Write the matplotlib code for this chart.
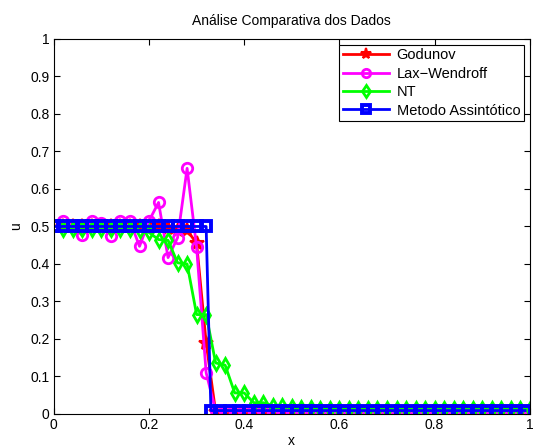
import numpy as np
import matplotlib.pyplot as plt

plt.rcParams['font.family'] = ['Liberation Sans', 'DejaVu Sans']

# grid used by the numerical schemes
x = [0.02 * k for k in range(1, 51)]

godunov = [0.50, 0.50, 0.50, 0.50, 0.50, 0.50, 0.50, 0.50, 0.50, 0.50,
           0.50, 0.495, 0.49, 0.49, 0.455, 0.19, 0.005, 0.004, 0.004, 0.004,
           0.004, 0.004, 0.004, 0.004, 0.004, 0.004, 0.004, 0.004, 0.004, 0.004,
           0.004, 0.004, 0.004, 0.004, 0.004, 0.004, 0.004, 0.004, 0.004, 0.004,
           0.004, 0.004, 0.004, 0.004, 0.004, 0.004, 0.004, 0.004, 0.004, 0.004]

lax_wendroff = [0.515, 0.50, 0.476, 0.515, 0.51, 0.475, 0.515, 0.515, 0.447, 0.515,
                0.564, 0.417, 0.47, 0.655, 0.444, 0.11, 0.008, 0.008, 0.008, 0.008,
                0.008, 0.008, 0.008, 0.008, 0.008, 0.008, 0.008, 0.008, 0.008, 0.008,
                0.008, 0.008, 0.008, 0.008, 0.008, 0.008, 0.008, 0.008, 0.008, 0.008,
                0.008, 0.008, 0.008, 0.008, 0.008, 0.008, 0.008, 0.008, 0.008, 0.008]

nt = [0.492, 0.492, 0.492, 0.492, 0.492, 0.492, 0.492, 0.492, 0.49, 0.484,
      0.465, 0.463, 0.403, 0.40, 0.265, 0.265, 0.136, 0.13, 0.056, 0.056,
      0.03, 0.03, 0.022, 0.02, 0.018, 0.016, 0.015, 0.014, 0.014, 0.014,
      0.013, 0.013, 0.013, 0.013, 0.013, 0.013, 0.013, 0.013, 0.013, 0.013,
      0.013, 0.013, 0.013, 0.013, 0.013, 0.013, 0.013, 0.013, 0.013, 0.013]

# assintotico
x_ass = [0.02 * k for k in range(0, 17)] + [0.33 + 0.02 * k for k in range(0, 34)]
u_ass = [0.50] * 17 + [0.009] * 34

fig = plt.figure(figsize=(5.33, 4.48), dpi=100)
ax = fig.add_axes([0.101, 0.076, 0.893, 0.837])

lw = 2.0
ax.plot(x, godunov, color='red', marker='*', ms=10, mew=1.5, lw=lw, label='Godunov')
ax.plot(x, lax_wendroff, color='magenta', marker='o', ms=7.5, mew=2.0, mfc='none', lw=lw, label='Lax\u2212Wendroff')
ax.plot(x, nt, color='lime', marker='d', ms=7.5, mew=2.0, mfc='none', lw=lw, label='NT')
ax.plot(x_ass, u_ass, color='blue', marker='s', ms=7, mew=2.8, mfc='none', lw=lw, label='Metodo Assintótico')

ax.set_xlim(0, 1)
ax.set_ylim(0, 1)
ax.set_xticks([0, 0.2, 0.4, 0.6, 0.8, 1])
ax.set_xticklabels(['0', '0.2', '0.4', '0.6', '0.8', '1'])
ax.set_yticks(np.arange(0, 1.01, 0.1))
ax.set_yticklabels(['0', '0.1', '0.2', '0.3', '0.4', '0.5', '0.6', '0.7', '0.8', '0.9', '1'])
ax.tick_params(direction='in', top=True, right=True, labelsize=10, length=4, pad=3)
for s in ax.spines.values():
    s.set_linewidth(0.8)

ax.set_title('Análise Comparativa dos Dados', fontsize=10, pad=10)
ax.set_xlabel('x', fontsize=10, labelpad=1)
ax.set_ylabel('u', fontsize=10, labelpad=5)

leg = ax.legend(loc='upper right', fontsize=10.5, fancybox=False, framealpha=1,
                edgecolor='black', handlelength=3.2, borderpad=0.25,
                labelspacing=0.3, borderaxespad=0.4, handletextpad=0.5,
                markerscale=0.8)
leg.get_frame().set_linewidth(0.8)

fig.savefig('out.png', dpi=100)
